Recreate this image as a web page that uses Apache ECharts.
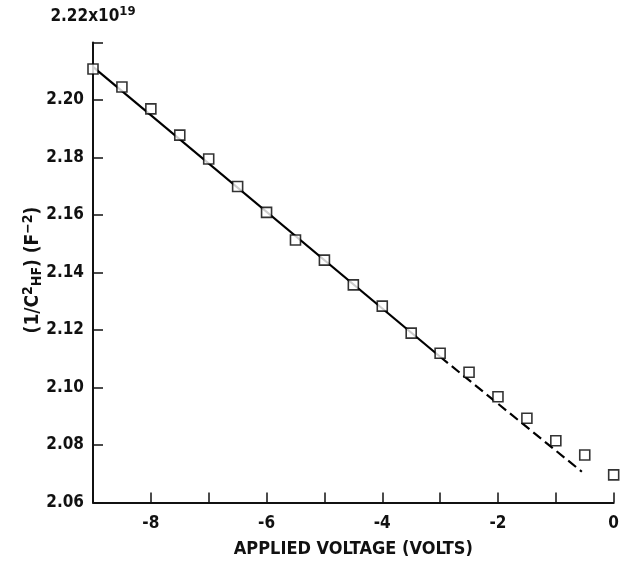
<!DOCTYPE html>
<html>
<head>
<meta charset="utf-8">
<script src="https://cdn.jsdelivr.net/npm/echarts@6/dist/echarts.min.js"></script>
<style>
  html, body { margin: 0; padding: 0; background: #fff; }
  #chart { width: 622px; height: 564px; }
</style>
</head>
<body>
<div id="chart"></div>
<script>
// Measured data (x: applied voltage in volts, y: 1/C_HF^2 in units of 1e19 F^-2)
const voltage = [-9, -8.5, -8, -7.5, -7, -6.5, -6, -5.5, -5, -4.5, -4, -3.5, -3, -2.5, -2, -1.5, -1, -0.5, 0];
const invC2 = [2.2108, 2.2045, 2.1969, 2.1878, 2.1795, 2.1699, 2.1609, 2.1513, 2.1443, 2.1357, 2.1283, 2.1189, 2.1119, 2.1053, 2.0968, 2.0893, 2.0815, 2.0765, 2.0696];

// Fitted straight line: solid part and dashed extension
const fitSolidX = [-9, -3];
const fitSolidY = [2.2115, 2.1107];
const fitDashX = [-3, -0.55];
const fitDashY = [2.1107, 2.0707];

// Axis ticks
const xMin = -9, xMax = 0, xStep = 1;
const xLabelValues = [-8, -6, -4, -2, 0];
const yMin = 2.06, yMax = 2.22, yStep = 0.02;

const FONT = '"DejaVu Sans Condensed", "Liberation Sans Narrow", "DejaVu Sans", sans-serif';

const chart = echarts.init(document.getElementById('chart'));
const pairs = (xs, ys) => xs.map((x, i) => [x, ys[i]]);

chart.setOption({
  animation: false,
  backgroundColor: '#ffffff',
  grid: { left: 93, right: 8, top: 42.5, bottom: 61.5, containLabel: false },
  xAxis: {
    type: 'value',
    min: xMin, max: xMax, interval: xStep,
    name: 'APPLIED VOLTAGE (VOLTS)',
    nameLocation: 'middle',
    nameGap: 38,
    nameTextStyle: { fontFamily: FONT, fontSize: 18, fontWeight: 'bold', color: '#111' },
    axisLine: { onZero: false, lineStyle: { color: '#111', width: 2 } },
    axisTick: { inside: true, length: 10, lineStyle: { color: '#111', width: 1.5 } },
    axisLabel: {
      fontFamily: FONT, fontSize: 17, fontWeight: 'bold', color: '#111', margin: 13,
      formatter: v => xLabelValues.includes(Math.round(v)) ? String(Math.round(v)) : ''
    },
    splitLine: { show: false }
  },
  yAxis: {
    type: 'value',
    min: yMin, max: yMax, interval: yStep,
    name: '2.22x10{sup|19}',
    nameLocation: 'end',
    nameGap: 14,
    nameTextStyle: {
      fontFamily: FONT, fontSize: 17, fontWeight: 'bold', color: '#111', align: 'center',
      rich: { sup: { fontFamily: FONT, fontSize: 13, fontWeight: 'bold', color: '#111', verticalAlign: 'top', padding: [0, 0, 10, 0] } }
    },
    axisLine: { onZero: false, lineStyle: { color: '#111', width: 2 } },
    axisTick: { inside: true, length: 10, lineStyle: { color: '#111', width: 1.5 } },
    axisLabel: {
      fontFamily: FONT, fontSize: 17, fontWeight: 'bold', color: '#111', margin: 9,
      formatter: v => (Math.abs(v - yMax) < 1e-6 ? '' : v.toFixed(2))
    },
    splitLine: { show: false }
  },
  graphic: [{
    type: 'text',
    x: 33, y: 270,
    rotation: Math.PI / 2,
    style: {
      text: '(1/C{sup|2}{sub|HF}) (F{sup|−2})',
      fontFamily: FONT, fontSize: 19, fontWeight: 'bold', fill: '#111',
      align: 'center', verticalAlign: 'middle',
      rich: {
        sup: { fontFamily: FONT, fontSize: 14, fontWeight: 'bold', fill: '#111', verticalAlign: 'top', padding: [0, 0, 9, 0] },
        sub: { fontFamily: FONT, fontSize: 14, fontWeight: 'bold', fill: '#111', verticalAlign: 'bottom', padding: [9, 0, 0, 0] }
      }
    }
  }],
  series: [
    {
      type: 'line', data: pairs(fitSolidX, fitSolidY), symbol: 'none',
      lineStyle: { color: '#000', width: 2.2 }, z: 2
    },
    {
      type: 'line', data: pairs(fitDashX, fitDashY), symbol: 'none',
      lineStyle: { color: '#000', width: 2.2, type: [10, 5] }, z: 2
    },
    {
      type: 'scatter', data: pairs(voltage, invC2), symbol: 'rect', symbolSize: 10,
      itemStyle: { color: '#fff', borderColor: '#000', borderWidth: 1.6 }, z: 3
    }
  ]
});
</script>
</body>
</html>
